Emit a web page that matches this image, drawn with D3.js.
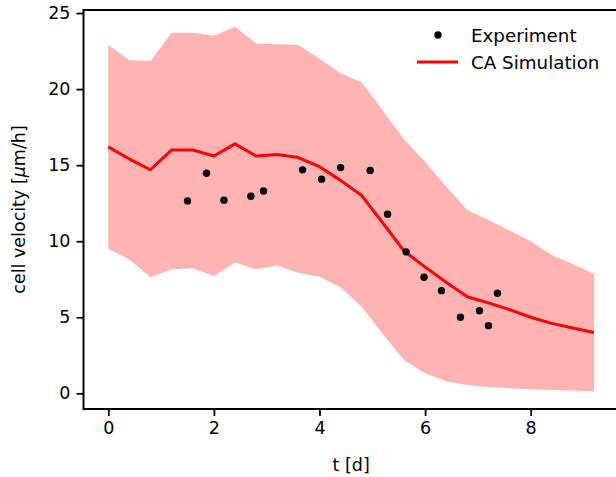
<!DOCTYPE html>
<html><head><meta charset="utf-8">
<script src="https://cdn.jsdelivr.net/npm/d3@7"></script>
<style>body{margin:0;background:#fff}svg{display:block}text{font-family:"DejaVu Sans",sans-serif;fill:#000}</style>
</head><body>
<script>
const simT = [0,0.4,0.8,1.2,1.6,2.0,2.4,2.8,3.2,3.6,4.0,4.4,4.8,5.2,5.6,6.0,6.4,6.8,7.2,7.6,8.0,8.4,8.8,9.2];
const simMean = [16.2,15.4,14.7,16.0,16.0,15.6,16.4,15.6,15.7,15.5,14.9,14.0,13.0,11.2,9.36,8.3,7.3,6.35,5.95,5.5,5.0,4.6,4.3,4.0];
const simUpper = [22.9,21.9,21.85,23.7,23.7,23.5,24.1,23.0,22.95,22.9,22.0,21.05,20.45,18.6,16.7,15.2,13.6,12.06,11.4,10.7,10.0,9.1,8.5,7.85];
const simLower = [9.5,8.8,7.63,8.16,8.22,7.72,8.6,8.16,8.4,7.93,7.67,6.97,5.7,3.9,2.19,1.32,0.8,0.55,0.42,0.33,0.27,0.22,0.18,0.12];
const expT = [1.50,1.86,2.19,2.70,2.94,3.68,4.04,4.40,4.96,5.29,5.64,5.98,6.31,6.67,7.03,7.20,7.37];
const expV = [12.65,14.47,12.7,12.96,13.3,14.69,14.08,14.84,14.65,11.78,9.3,7.63,6.75,5.0,5.43,4.45,6.58];
const xTicks = [0,2,4,6,8];
const yTicks = [0,5,10,15,20,25];

const W=616,H=477;
const svg=d3.select("body").append("svg").attr("width",W).attr("height",H);
const x=d3.scaleLinear().domain([-0.47,9.66]).range([83.5,618.3]);
const y=d3.scaleLinear().domain([-1.03,25.2]).range([409,10]);

const idx=d3.range(simT.length);
svg.append("path").datum(idx)
  .attr("d",d3.area().x(i=>x(simT[i])).y0(i=>y(simLower[i])).y1(i=>y(simUpper[i])))
  .attr("fill","#ffb3b3").attr("stroke","none");
svg.append("path").datum(idx)
  .attr("d",d3.line().x(i=>x(simT[i])).y(i=>y(simMean[i])))
  .attr("fill","none").attr("stroke","#ff0000").attr("stroke-width",3).attr("stroke-linejoin","round");
svg.append("g").selectAll("circle").data(d3.range(expT.length)).join("circle")
  .attr("cx",i=>x(expT[i])).attr("cy",i=>y(expV[i])).attr("r",3.7).attr("fill","#000");

// axes
const fs=17.5;
const xa=svg.append("g").attr("transform","translate(0,409)")
  .call(d3.axisBottom(x).tickValues(xTicks).tickSize(7).tickPadding(6).tickFormat(d3.format("d")));
const ya=svg.append("g").attr("transform","translate(83.5,0)")
  .call(d3.axisLeft(y).tickValues(yTicks).tickSize(7).tickPadding(6).tickFormat(d3.format("d")));
[xa,ya].forEach(a=>{
  a.select(".domain").remove();
  a.selectAll(".tick line").attr("stroke","#000").attr("stroke-width",1.8);
  a.selectAll(".tick text").attr("font-size",fs).attr("font-family","DejaVu Sans");
});
// spines
svg.append("rect").attr("x",83.5).attr("y",10).attr("width",618.3-83.5).attr("height",399)
  .attr("fill","none").attr("stroke","#000").attr("stroke-width",2);

svg.append("text").attr("x",x(4.6)).attr("y",471).attr("text-anchor","middle").attr("font-size",fs).text("t [d]");
const yl=svg.append("text").attr("transform","translate(25,209.5) rotate(-90)").attr("text-anchor","middle").attr("font-size",fs);
yl.append("tspan").text("cell velocity [");
yl.append("tspan").attr("font-style","italic").text("μ");
yl.append("tspan").text("m/h]");

// legend
const lfs=18.3;
const lg=svg.append("g");
lg.append("circle").attr("cx",438).attr("cy",35).attr("r",3.7).attr("fill","#000");
lg.append("line").attr("x1",417).attr("x2",458).attr("y1",62).attr("y2",62).attr("stroke","#ff0000").attr("stroke-width",3);
lg.append("text").attr("x",471).attr("y",35).attr("dy","0.36em").attr("font-size",lfs).text("Experiment");
lg.append("text").attr("x",471).attr("y",62).attr("dy","0.36em").attr("font-size",lfs).text("CA Simulation");
</script>
</body></html>
